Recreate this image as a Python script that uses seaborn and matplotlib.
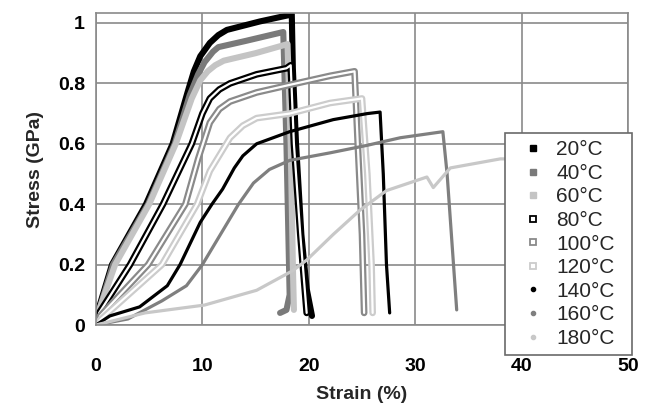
import numpy as np
import matplotlib
matplotlib.use("Agg")
import matplotlib.pyplot as plt
import matplotlib.patheffects as pe
from matplotlib.lines import Line2D
import seaborn as sns

# temperatures (legend labels)
labels = ['20°C', '40°C', '60°C', '80°C', '100°C', '120°C', '140°C', '160°C', '180°C']

# strain (%) / stress (GPa)
strain_20 = [0, 0.3, 1.5, 4.7, 7.2, 8.6, 9.2, 9.8, 10.7, 11.5, 12.3, 15.4, 18.0, 18.4, 18.5, 18.8, 19.3, 19.8, 20.3]
stress_20 = [0, 0.06, 0.2, 0.4, 0.6, 0.77, 0.84, 0.89, 0.934, 0.96, 0.977, 1.005, 1.025, 1.03, 0.85, 0.6, 0.3, 0.12, 0.03]

strain_40 = [0, 0.3, 1.6, 4.9, 7.4, 8.8, 9.6, 10.2, 11.0, 11.5, 14.0, 17.0, 17.6, 17.9, 18.2, 17.9, 17.3]
stress_40 = [0, 0.05, 0.2, 0.4, 0.6, 0.76, 0.83, 0.87, 0.905, 0.92, 0.94, 0.965, 0.97, 0.6, 0.1, 0.05, 0.04]

strain_60 = [0, 0.3, 1.8, 5.0, 7.5, 9.0, 9.8, 10.5, 11.2, 12.0, 15.0, 17.5, 18.0, 18.3, 18.5, 18.6]
stress_60 = [0, 0.05, 0.2, 0.4, 0.6, 0.75, 0.81, 0.84, 0.86, 0.875, 0.9, 0.925, 0.93, 0.6, 0.2, 0.05]

strain_80 = [0, 0.3, 3.2, 6.3, 9.0, 10.0, 10.7, 11.6, 12.6, 15.1, 17.9, 18.3, 18.6, 19.2, 19.8]
stress_80 = [0, 0.04, 0.2, 0.4, 0.6, 0.7, 0.75, 0.78, 0.8, 0.83, 0.85, 0.86, 0.6, 0.3, 0.04]

strain_100 = [0, 0.4, 4.9, 8.4, 9.6, 10.7, 11.6, 12.6, 15.1, 18.2, 22.0, 24.3, 24.6, 25.0, 25.2]
stress_100 = [0, 0.03, 0.2, 0.4, 0.55, 0.67, 0.715, 0.74, 0.77, 0.795, 0.825, 0.84, 0.6, 0.3, 0.04]

strain_120 = [0, 0.5, 6.2, 9.5, 10.7, 12.6, 13.8, 15.1, 18.2, 22.0, 25.0, 25.5, 25.9, 26.0]
stress_120 = [0, 0.02, 0.2, 0.4, 0.51, 0.62, 0.66, 0.685, 0.70, 0.735, 0.75, 0.5, 0.2, 0.04]

strain_140 = [0, 1.3, 4.1, 6.7, 7.9, 9.8, 10.9, 11.9, 13.0, 13.8, 15.1, 18.2, 22.3, 25.5, 26.7, 27.0, 27.3, 27.6]
stress_140 = [0, 0.03, 0.06, 0.13, 0.2, 0.34, 0.4, 0.45, 0.52, 0.56, 0.6, 0.64, 0.68, 0.70, 0.705, 0.5, 0.2, 0.04]

strain_160 = [0, 3.0, 6.2, 8.5, 10.0, 13.4, 14.8, 16.3, 18.2, 22.0, 25.5, 28.6, 32.6, 33.0, 33.5, 33.9]
stress_160 = [0, 0.02, 0.08, 0.13, 0.2, 0.4, 0.47, 0.515, 0.545, 0.57, 0.595, 0.62, 0.64, 0.5, 0.25, 0.05]

strain_180 = [0, 4.6, 10.2, 15.1, 18.5, 19.8, 22.3, 24.8, 27.3, 31.1, 31.7, 33.3, 38.0, 40.0]
stress_180 = [0, 0.04, 0.066, 0.115, 0.18, 0.215, 0.3, 0.38, 0.445, 0.49, 0.455, 0.52, 0.55, 0.55]

strains = [strain_20, strain_40, strain_60, strain_80, strain_100, strain_120, strain_140, strain_160, strain_180]
stresses = [stress_20, stress_40, stress_60, stress_80, stress_100, stress_120, stress_140, stress_160, stress_180]

colors = ['#000000', '#7a7a7a', '#c4c4c4', '#000000', '#8a8a8a', '#cccccc', '#000000', '#7f7f7f', '#c8c8c8']
kinds = ['solid', 'solid', 'solid', 'hollow', 'hollow', 'hollow', 'thin', 'thin', 'thin']

sns.set_style("white")
plt.rcParams['font.family'] = ['Liberation Sans', 'DejaVu Sans']

fig = plt.figure(figsize=(6.46, 4.05), dpi=100)
ax = fig.add_axes([96/646, 80/405, 532/646, 312/405])

for x, y, c, k in zip(strains, stresses, colors, kinds):
    if k == 'solid':
        sns.lineplot(x=x, y=y, sort=False, estimator=None, color=c, lw=4.4, ax=ax)
    elif k == 'hollow':
        sns.lineplot(x=x, y=y, sort=False, estimator=None, color='white', lw=1.6, ax=ax,
                     path_effects=[pe.Stroke(linewidth=4.8, foreground=c), pe.Normal()])
    else:
        sns.lineplot(x=x, y=y, sort=False, estimator=None, color=c, lw=2.3, ax=ax)

ax.set_xlim(0, 50)
ax.set_ylim(0, 1.033)
ax.set_xticks([0, 10, 20, 30, 40, 50])
ax.set_yticks([0, 0.2, 0.4, 0.6, 0.8, 1.0])
ax.set_yticklabels(['0', '0.2', '0.4', '0.6', '0.8', '1'])
ax.grid(True, color='#8a8a8a', lw=1.2)
ax.set_axisbelow(True)
for s in ax.spines.values():
    s.set_color('#8a8a8a')
    s.set_linewidth(1.2)
ax.tick_params(axis='both', which='both', direction='out', length=7, width=1.2, color='#8a8a8a',
               labelsize=14, labelcolor='black')
ax.tick_params(axis='y', pad=1)
ax.tick_params(axis='x', pad=17)
for t in ax.get_xticklabels() + ax.get_yticklabels():
    t.set_fontweight('bold')

ax.set_xlabel('Strain (%)', fontsize=14, fontweight='bold', labelpad=8)
ax.set_ylabel('Stress (GPa)', fontsize=14, fontweight='bold', labelpad=10)

# legend with marker-only entries
handles = []
for i, c in enumerate(colors):
    if kinds[i] == 'solid':
        h = Line2D([], [], ls='none', marker='s', ms=4.5, mfc=c, mec=c)
    elif kinds[i] == 'hollow':
        h = Line2D([], [], ls='none', marker='s', ms=5, mfc='white', mec=c, mew=1.3)
    else:
        h = Line2D([], [], ls='none', marker='o', ms=3, mfc=c, mec=c)
    handles.append(h)

leg = fig.legend(handles, labels, loc='upper left', mode='expand',
                 bbox_to_anchor=(505/646, 272/405, 127/646, 0),
                 fontsize=15, frameon=True, fancybox=False, framealpha=1,
                 edgecolor='#6a6a6a', labelspacing=0.22, handlelength=2.0,
                 handletextpad=0.1, borderpad=0.35, borderaxespad=0)
leg.get_frame().set_linewidth(1.2)

fig.savefig('out.png', dpi=100)
